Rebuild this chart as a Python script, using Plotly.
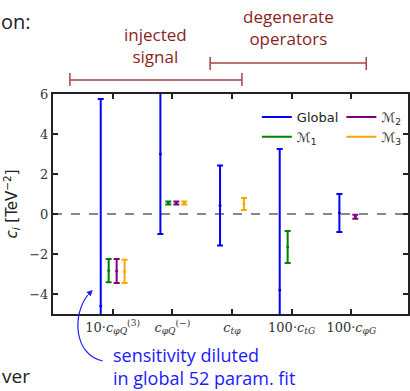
import plotly.graph_objects as go

# ---- data ----
categories = [1, 2, 3, 4, 5]
tick_labels = ["10·<i>c</i><sub><i>φQ</i></sub><sup>(3)</sup>", "<i>c</i><sub><i>φQ</i></sub><sup>(−)</sup>",
               "<i>c</i><sub><i>tφ</i></sub>", "100·<i>c</i><sub><i>tG</i></sub>", "100·<i>c</i><sub><i>φG</i></sub>"]

global_cat = [1, 2, 3, 4, 5]
global_val = [-4.6, 3.0, 0.42, -3.8, 0.05]
global_err = [10.35, 4.0, 2.0, 7.05, 0.95]

m1_cat = [1, 2, 4]
m1_val = [-2.83, 0.55, -1.65]
m1_err = [0.58, 0.08, 0.8]

m2_cat = [1, 2, 5]
m2_val = [-2.85, 0.55, -0.14]
m2_err = [0.6, 0.08, 0.1]

m3_cat = [1, 2, 3]
m3_val = [-2.87, 0.55, 0.5]
m3_err = [0.58, 0.08, 0.3]

offsets = {"Global": -0.2, "M1": -0.067, "M2": 0.067, "M3": 0.2}
colors = {"Global": "#0000ff", "M1": "#008000", "M2": "#800080", "M3": "#ffa500"}

W, H = 410, 391
ML, MR, MT, MB = 53, 0, 94, 77
PW, PH = W - ML - MR, H - MT - MB


def px(x):
    return (x - ML) / PW


def py(y):
    return (H - MB - y) / PH


fig = go.Figure()


def add_series(key, cats, vals, errs):
    fig.add_trace(go.Scatter(
        x=[c + offsets[key] for c in cats], y=vals, mode="markers",
        marker=dict(color=colors[key], size=3),
        error_y=dict(type="data", array=errs, visible=True, color=colors[key],
                     thickness=2, width=3),
        showlegend=False, hoverinfo="skip"))


add_series("Global", global_cat, global_val, global_err)
add_series("M1", m1_cat, m1_val, m1_err)
add_series("M2", m2_cat, m2_val, m2_err)
add_series("M3", m3_cat, m3_val, m3_err)

# legend entries: column 1 = Global, M1 ; column 2 = M2, M3
for name, key, lg in [("Global", "Global", "legend"), ("<i>ℳ</i><sub>1</sub>", "M1", "legend"),
                      ("<i>ℳ</i><sub>2</sub>", "M2", "legend2"), ("<i>ℳ</i><sub>3</sub>", "M3", "legend2")]:
    fig.add_trace(go.Scatter(x=[None], y=[None], mode="lines", name=name, legend=lg,
                             line=dict(color=colors[key], width=2)))

axis_common = dict(showline=True, linecolor="#222222", linewidth=2, mirror="ticks",
                   ticks="inside", ticklen=5, tickwidth=2, tickcolor="#222222",
                   showgrid=False, zeroline=False,
                   tickfont=dict(family="DejaVu Serif", size=13, color="#333333"))

fig.update_xaxes(range=[0, 5.95], tickvals=categories, ticktext=tick_labels, **axis_common)
fig.update_yaxes(range=[-5, 6], tickvals=[-4, -2, 0, 2, 4, 6],
                 ticktext=["−4", "−2", "0", "2", "4", "6"],
                 title=dict(text="<i>c<sub>i</sub></i> [TeV<sup>−2</sup>]",
                            font=dict(family="DejaVu Sans", size=15, color="#222222"),
                            standoff=8),
                 **axis_common)

red_line = "#a04545"
red_text = "#8b1e1e"
shapes = [dict(type="line", xref="paper", yref="y", x0=0, x1=1, y0=0, y1=0,
               line=dict(color="#888888", width=2, dash="dash"), layer="below")]
for (x0, x1, yb, t0, t1) in [(70, 243, 80, 73, 86), (211, 368, 63, 57, 70)]:
    shapes.append(dict(type="line", xref="paper", yref="paper", x0=px(x0), x1=px(x1),
                       y0=py(yb), y1=py(yb), line=dict(color=red_line, width=1.5)))
    for xx in (x0, x1):
        shapes.append(dict(type="line", xref="paper", yref="paper", x0=px(xx), x1=px(xx),
                           y0=py(t0), y1=py(t1), line=dict(color=red_line, width=1.5)))

# curved arrow path
pts = [(103, 361), (74, 355), (72, 315), (88, 295)]
path = "M {},{} C {},{} {},{} {},{}".format(*[v for p in pts for v in (px(p[0]), py(p[1]))])
shapes.append(dict(type="path", xref="paper", yref="paper", path=path,
                   line=dict(color="#1a1aff", width=1.2)))


def ann(x, y, text, size, color, xanchor="center", align="center"):
    return dict(x=px(x), y=py(y), xref="paper", yref="paper", text=text, showarrow=False,
                xanchor=xanchor, yanchor="middle", align=align,
                font=dict(family="Open Sans", size=size, color=color))


annotations = [
    ann(156, 46, "injected<br>signal", 17, red_text),
    ann(290, 28, "degenerate<br>operators", 17, red_text),
    ann(111, 366, "sensitivity diluted<br>in global 52 param. fit", 18, "#1a1aff",
        xanchor="left", align="left"),
    dict(x=px(93), y=py(290), xref="paper", yref="paper", ax=-6, ay=6, text="",
         showarrow=True, arrowhead=2, arrowsize=1, arrowwidth=1.2, arrowcolor="#1a1aff"),
    ann(-1, 22, "on:", 20, "#222222", xanchor="left"),
    ann(0, 376, "ver", 19, "#222222", xanchor="left"),
]

leg_common = dict(orientation="v", yanchor="top", xanchor="left", bgcolor="rgba(0,0,0,0)",
                  font=dict(family="DejaVu Sans", size=13, color="#222222"), itemwidth=30)

fig.update_layout(
    width=W, height=H, margin=dict(l=ML, r=MR, t=MT, b=MB),
    paper_bgcolor="white", plot_bgcolor="white",
    shapes=shapes, annotations=annotations,
    legend=dict(x=px(258), y=py(102), **leg_common),
    legend2=dict(x=px(343), y=py(102), **leg_common),
)

fig.write_html("out.html")
